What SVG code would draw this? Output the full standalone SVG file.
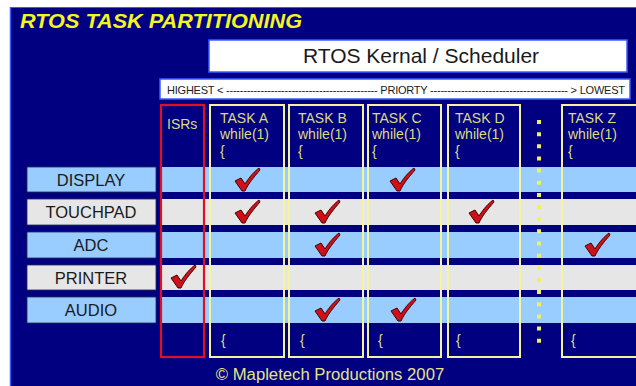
<svg xmlns="http://www.w3.org/2000/svg" width="636" height="386" viewBox="0 0 636 386">
<style>
.lbl{font-family:"Liberation Sans",Arial,sans-serif;font-size:16.5px;fill:#1a1a1a;text-anchor:middle}
.hdr{font-family:"Liberation Sans",Arial,sans-serif;font-size:14px;fill:#dcdc82}
.col{fill:none;stroke:#f4f4a0;stroke-width:2}
.isr{fill:none;stroke:#e01020;stroke-width:2.2}
.blue{fill:#99ccff}
.gray{fill:#e6e6e6}
.lbox{stroke:#2a2a50;stroke-width:0.8}
</style>
<defs>
<path id="chk" d="M-12,1 L-6,-2 L-2,4 C3,-4 8,-9 12,-12 L13,-10 C7,-3 1,4 -2,11 L-5,11 Z" fill="#d01018" stroke="#400000" stroke-width="1" stroke-linejoin="round"/>
</defs>
<rect x="0" y="0" width="636" height="386" fill="#ffffff"/>
<rect x="10" y="7" width="626" height="379" fill="#000080"/>
<line x1="10.5" y1="7" x2="10.5" y2="386" stroke="#3a5cff" stroke-width="1.5"/>
<line x1="10" y1="7.5" x2="636" y2="7.5" stroke="#3a5cff" stroke-width="1"/>
<text x="20" y="28" font-family="Liberation Sans,Arial,sans-serif" font-size="21" font-weight="bold" font-style="italic" fill="#f5f520" textLength="282" lengthAdjust="spacingAndGlyphs">RTOS TASK PARTITIONING</text>
<g id="kernel">
<rect x="209" y="40" width="418" height="32" fill="#ffffff" stroke="#3a5cff" stroke-width="1.5"/>
<text x="421" y="63" font-family="Liberation Sans,Arial,sans-serif" font-size="21" fill="#1a1a1a" text-anchor="middle">RTOS Kernal / Scheduler</text>
</g>
<g id="priority">
<rect x="160" y="79" width="470" height="20" fill="#ffffff" stroke="#3a5cff" stroke-width="1.5"/>
<text x="167" y="93.5" font-family="Liberation Sans,Arial,sans-serif" font-size="11" fill="#1a1a1a" textLength="458" lengthAdjust="spacing">HIGHEST &lt; -------------------------------------------- PRIORTY ---------------------------------------- &gt; LOWEST</text>
</g>
<g id="bands">
<rect class="blue" x="161" y="167" width="475" height="25"/>
<rect class="gray" x="161" y="199" width="475" height="26"/>
<rect class="blue" x="161" y="232" width="475" height="26"/>
<rect class="gray" x="161" y="265" width="475" height="25"/>
<rect class="blue" x="161" y="297" width="475" height="26"/>
</g>
<g id="row-display"><rect class="blue lbox" x="27" y="167" width="129" height="25"/><text class="lbl" x="91" y="185.5">DISPLAY</text></g>
<g id="row-touchpad"><rect class="gray lbox" x="27" y="199" width="129" height="26"/><text class="lbl" x="91" y="218">TOUCHPAD</text></g>
<g id="row-adc"><rect class="blue lbox" x="27" y="232" width="129" height="26"/><text class="lbl" x="91" y="251">ADC</text></g>
<g id="row-printer"><rect class="gray lbox" x="27" y="265" width="129" height="25"/><text class="lbl" x="91" y="283.5">PRINTER</text></g>
<g id="row-audio"><rect class="blue lbox" x="27" y="297" width="129" height="26"/><text class="lbl" x="91" y="316">AUDIO</text></g>
<g id="col-isr"><rect class="isr" x="161" y="105" width="43" height="252"/><text class="hdr" x="167" y="129">ISRs</text></g>
<g id="col-taska"><rect class="col" x="210" y="105" width="74" height="252"/><text class="hdr" x="220" y="123">TASK A</text><text class="hdr" x="220" y="139">while(1)</text><text class="hdr" x="220" y="156">{</text><text class="hdr" x="221" y="345">{</text></g>
<g id="col-taskb"><rect class="col" x="289" y="105" width="74" height="252"/><text class="hdr" x="298" y="123">TASK B</text><text class="hdr" x="298" y="139">while(1)</text><text class="hdr" x="298" y="156">{</text><text class="hdr" x="300" y="345">{</text></g>
<g id="col-taskc"><rect class="col" x="368" y="105" width="73" height="252"/><text class="hdr" x="372" y="123">TASK C</text><text class="hdr" x="372" y="139">while(1)</text><text class="hdr" x="372" y="156">{</text><text class="hdr" x="378" y="345">{</text></g>
<g id="col-taskd"><rect class="col" x="448" y="105" width="72" height="252"/><text class="hdr" x="455" y="123">TASK D</text><text class="hdr" x="455" y="139">while(1)</text><text class="hdr" x="455" y="156">{</text><text class="hdr" x="456" y="345">{</text></g>
<g id="col-dots"><line x1="539" y1="120" x2="539" y2="344" stroke="#f0f060" stroke-width="4" stroke-dasharray="4 8.15"/></g>
<g id="col-taskz"><rect class="col" x="562" y="105" width="80" height="252"/><text class="hdr" x="568" y="123">TASK Z</text><text class="hdr" x="568" y="139">while(1)</text><text class="hdr" x="568" y="156">{</text><text class="hdr" x="571" y="345">{</text></g>
<g id="checks">
<use href="#chk" x="247" y="180"/>
<use href="#chk" x="402" y="180"/>
<use href="#chk" x="247" y="212"/>
<use href="#chk" x="327" y="212"/>
<use href="#chk" x="481" y="212"/>
<use href="#chk" x="327" y="245"/>
<use href="#chk" x="597" y="245"/>
<use href="#chk" x="183" y="277"/>
<use href="#chk" x="327" y="310"/>
<use href="#chk" x="403" y="310"/>
</g>
<text x="330" y="380" font-family="Liberation Sans,Arial,sans-serif" font-size="16.7" fill="#e4e48a" text-anchor="middle">© Mapletech Productions 2007</text>
</svg>
